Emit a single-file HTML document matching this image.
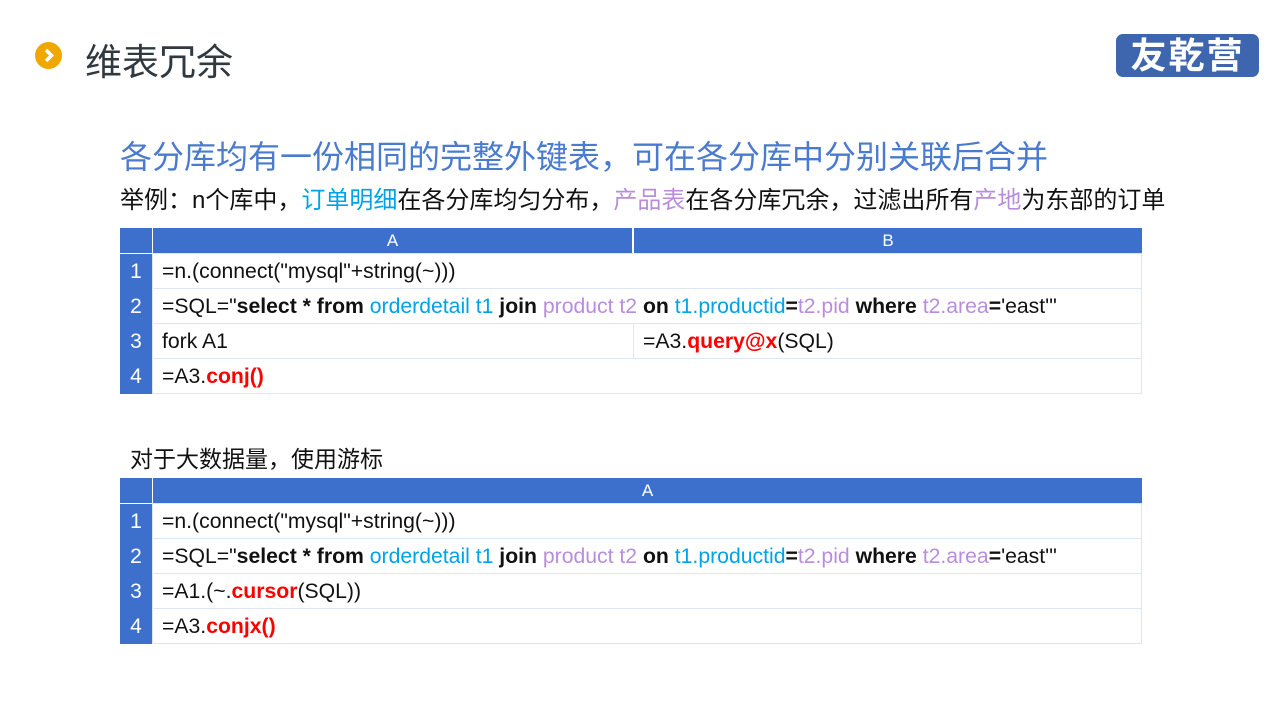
<!DOCTYPE html>
<html><head><meta charset="utf-8"><style>
body{margin:0;width:1280px;height:720px;background:#fff;position:relative;overflow:hidden;font-family:"Liberation Sans","Noto Sans CJK SC",sans-serif}
.a{position:absolute;white-space:nowrap}
.h{position:absolute;background:#3d6fcd;color:#fff;font-size:17px;text-align:center;line-height:25px}
.n{position:absolute;background:#3d6fcd;color:#fff;font-size:21px;text-align:center;width:32px;line-height:35px}
.c{position:absolute;border:1px solid #dde6f3;box-sizing:border-box;font-size:21.2px;line-height:35px;padding-left:9px;color:#111;white-space:nowrap}
.b{color:#00a2e8}.p{color:#b98ddc}.r{color:#f00;font-weight:bold}
</style></head><body>
<div class="a" style="left:35px;top:42px;width:27px;height:27px;border-radius:50%;background:#f0a800"></div>
<svg class="a" style="left:35px;top:42px" width="27" height="27"><path d="M11 8 L16.5 13.5 L11 19" stroke="#fff" stroke-width="3.5" fill="none"/></svg>
<div class="a" style="left:85px;top:32px;font-size:37px;color:#30393f">维表冗余</div>
<div class="a" style="left:1116px;top:34px;width:143px;height:43px;background:#3d66ae;border-radius:7px;color:#fff;font-size:36px;font-weight:bold;text-align:center;line-height:43px;letter-spacing:2px">友乾营</div>
<div class="a" style="left:120px;top:132px;font-size:32px;color:#4a7bcf">各分库均有一份相同的完整外键表，可在各分库中分别关联后合并</div>
<div class="a" style="left:120px;top:180px;font-size:24px;color:#111">举例：n个库中，<span class="b">订单明细</span>在各分库均匀分布，<span class="p">产品表</span>在各分库冗余，过滤出所有<span class="p">产地</span>为东部的订单</div>

<div class="h" style="left:120px;top:228px;width:32px;height:25px"></div>
<div class="h" style="left:153px;top:228px;width:479px">A</div>
<div class="h" style="left:634px;top:228px;width:508px">B</div>
<div class="n" style="left:120px;top:254px">1</div>
<div class="n" style="left:120px;top:289px">2</div>
<div class="n" style="left:120px;top:324px">3</div>
<div class="n" style="left:120px;top:359px">4</div>
<div class="c" style="left:152px;top:253px;width:990px;height:36px">=n.(connect("mysql"+string(~)))</div>
<div class="c" style="left:152px;top:288px;width:990px;height:36px">=SQL="<b>select * from </b><span class="b">orderdetail t1</span><b> join </b><span class="p">product t2</span><b> on </b><span class="b">t1.productid</span><b>=</b><span class="p">t2.pid</span><b> where </b><span class="p">t2.area</span><b>=</b>'east'"</div>
<div class="c" style="left:152px;top:323px;width:482px;height:36px">fork A1</div>
<div class="c" style="left:633px;top:323px;width:509px;height:36px">=A3.<span class="r">query@x</span>(SQL)</div>
<div class="c" style="left:152px;top:358px;width:990px;height:36px">=A3.<span class="r">conj()</span></div>

<div class="a" style="left:130px;top:440px;font-size:23px;color:#111">对于大数据量，使用游标</div>

<div class="h" style="left:120px;top:478px;width:32px;height:25px"></div>
<div class="h" style="left:153px;top:478px;width:989px">A</div>
<div class="n" style="left:120px;top:504px">1</div>
<div class="n" style="left:120px;top:539px">2</div>
<div class="n" style="left:120px;top:574px">3</div>
<div class="n" style="left:120px;top:609px">4</div>
<div class="c" style="left:152px;top:503px;width:990px;height:36px">=n.(connect("mysql"+string(~)))</div>
<div class="c" style="left:152px;top:538px;width:990px;height:36px">=SQL="<b>select * from </b><span class="b">orderdetail t1</span><b> join </b><span class="p">product t2</span><b> on </b><span class="b">t1.productid</span><b>=</b><span class="p">t2.pid</span><b> where </b><span class="p">t2.area</span><b>=</b>'east'"</div>
<div class="c" style="left:152px;top:573px;width:990px;height:36px">=A1.(~.<span class="r">cursor</span>(SQL))</div>
<div class="c" style="left:152px;top:608px;width:990px;height:36px">=A3.<span class="r">conjx()</span></div>
</body></html>
